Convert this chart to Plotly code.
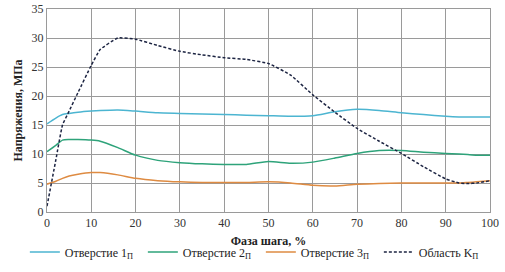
import plotly.graph_objects as go

x = [0, 2, 3.5, 5, 7, 10, 12, 16, 20, 25, 30, 35, 40, 45, 50, 55, 60, 65, 70, 75, 80, 85, 90, 93, 95, 97, 100]

hole1 = [15.2, 16.2, 16.8, 17.0, 17.2, 17.4, 17.5, 17.6, 17.4, 17.1, 17.0, 16.9, 16.8, 16.7, 16.6, 16.5, 16.6, 17.3, 17.7, 17.5, 17.1, 16.8, 16.5, 16.4, 16.4, 16.4, 16.4]
hole2 = [10.4, 11.5, 12.4, 12.5, 12.5, 12.4, 12.2, 11.1, 9.8, 8.9, 8.5, 8.3, 8.2, 8.2, 8.7, 8.4, 8.6, 9.3, 10.1, 10.6, 10.6, 10.3, 10.1, 10.0, 9.9, 9.8, 9.8]
hole3 = [4.8, 5.3, 5.8, 6.2, 6.5, 6.8, 6.8, 6.4, 5.8, 5.4, 5.2, 5.1, 5.1, 5.1, 5.2, 5.0, 4.6, 4.5, 4.8, 4.9, 5.0, 5.0, 5.0, 5.0, 5.1, 5.2, 5.4]
areaK = [1.0, 9.0, 15.0, 17.4, 20.6, 25.3, 28.0, 30.0, 29.8, 28.7, 27.7, 27.1, 26.6, 26.3, 25.6, 23.6, 20.2, 17.2, 14.4, 12.2, 10.1, 7.8, 5.7, 5.0, 4.9, 5.0, 5.4]

names = ["Отверстие 1<sub>П</sub>", "Отверстие 2<sub>П</sub>", "Отверстие 3<sub>П</sub>", "Область K<sub>П</sub>"]
x_ticks = list(range(0, 101, 10))
y_ticks = list(range(0, 36, 5))

FONT = "Liberation Serif, DejaVu Serif, Liberation Sans, sans-serif"

fig = go.Figure()
fig.add_trace(go.Scatter(x=x, y=hole1, name=names[0], mode="lines",
                         line=dict(color="#4cb5d1", width=1.5, shape="spline", smoothing=0.6)))
fig.add_trace(go.Scatter(x=x, y=hole2, name=names[1], mode="lines",
                         line=dict(color="#2ea37a", width=1.5, shape="spline", smoothing=0.6)))
fig.add_trace(go.Scatter(x=x, y=hole3, name=names[2], mode="lines",
                         line=dict(color="#de8b42", width=1.5, shape="spline", smoothing=0.6)))
fig.add_trace(go.Scatter(x=x, y=areaK, name=names[3], mode="lines",
                         line=dict(color="#1c2442", width=1.5, dash="3px,2px", shape="spline", smoothing=0.4)))

axis_common = dict(showgrid=True, gridcolor="#9a9a9a", gridwidth=1, zeroline=False,
                   showline=True, linecolor="#9a9a9a", linewidth=1, mirror=True,
                   ticks="", automargin=False,
                   tickfont=dict(family=FONT, size=12, color="#333"))

fig.update_layout(
    width=505, height=272,
    margin=dict(l=47, r=15, t=9, b=60, autoexpand=False),
    paper_bgcolor="white", plot_bgcolor="white",
    font=dict(family=FONT, size=12, color="#222"),
    xaxis=dict(range=[0, 100], tickvals=x_ticks, title=dict(text="<b>Фаза шага, %</b>", standoff=7,
               font=dict(family=FONT, size=12)), **axis_common),
    yaxis=dict(range=[0, 35], tickvals=y_ticks, title=dict(text="<b>Напряжения, МПа</b>", standoff=6,
               font=dict(family=FONT, size=12)), **axis_common),
    legend=dict(orientation="h", x=-0.05, xanchor="left", y=-0.125, yanchor="top",
                font=dict(family=FONT, size=12), itemwidth=30,
                entrywidth=73, entrywidthmode="pixels"),
    showlegend=True,
)

fig.write_html("out.html",
               config={"displayModeBar": False},
               post_script="document.body.style.margin='0';document.body.style.padding='0';document.body.style.overflow='hidden';")
